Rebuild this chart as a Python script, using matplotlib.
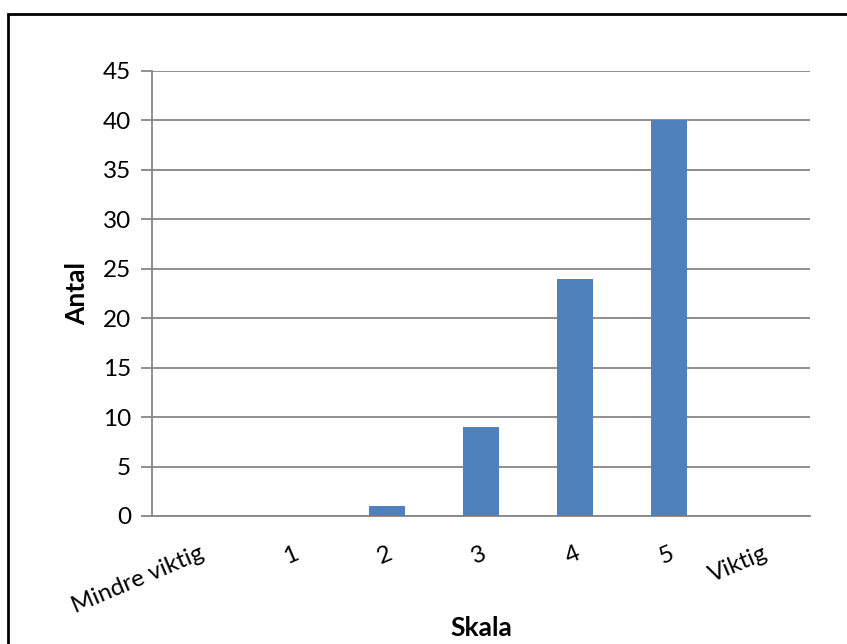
#!/usr/bin/env python3
"""Bar chart of answers on a 1-5 importance scale."""
import numpy as np
import matplotlib.pyplot as plt
from matplotlib.patches import Rectangle

categories = ['Mindre viktig', '1', '2', '3', '4', '5', 'Viktig']
antal = [0, 0, 1, 9, 24, 40, 0]
y_ticks = list(range(0, 46, 5))

plt.rcParams['font.family'] = ['Lato', 'DejaVu Sans']

fig = plt.figure(figsize=(8.47, 6.44), dpi=100)
ax = fig.add_axes([152 / 847, 1 - 516 / 644, 658 / 847, 445 / 644])

x = np.arange(len(categories))
ax.bar(x, antal, width=0.39, color='#4F81BD', zorder=3)

# Axis ranges and ticks
ax.set_xlim(-0.5, len(categories) - 0.5)
ax.set_ylim(0, 45)
ax.set_yticks(y_ticks)
ax.set_xticks(x)
ax.set_xticklabels(categories, rotation=23, ha='right',
                   rotation_mode='anchor')
ax.tick_params(axis='x', length=0, pad=19, labelsize=17.5)
ax.tick_params(axis='y', length=8, width=1.3, color='#868686',
               pad=7, labelsize=17.5)

# Horizontal gridlines, left spine only
ax.grid(axis='y', color='#868686', linewidth=1.3, zorder=0)
for side in ['top', 'right']:
    ax.spines[side].set_visible(False)
ax.spines['left'].set_color('#868686')
ax.spines['left'].set_linewidth(1.3)
ax.spines['bottom'].set_color('#868686')
ax.spines['bottom'].set_linewidth(1.3)

# Axis titles
fig.text(77 / 847, 1 - 293 / 644, 'Antal', rotation=90, fontsize=19,
         fontweight='bold', ha='center', va='center')
fig.text(481 / 847, 1 - 628 / 644, 'Skala', fontsize=19,
         fontweight='bold', ha='center', va='center')

# Chart border
fig.patches.append(Rectangle((8 / 847, -0.01), 1.0, 1 - 14 / 644 + 0.01,
                             transform=fig.transFigure, fill=False,
                             edgecolor='black', linewidth=2))

fig.savefig('out.png', dpi=100)
